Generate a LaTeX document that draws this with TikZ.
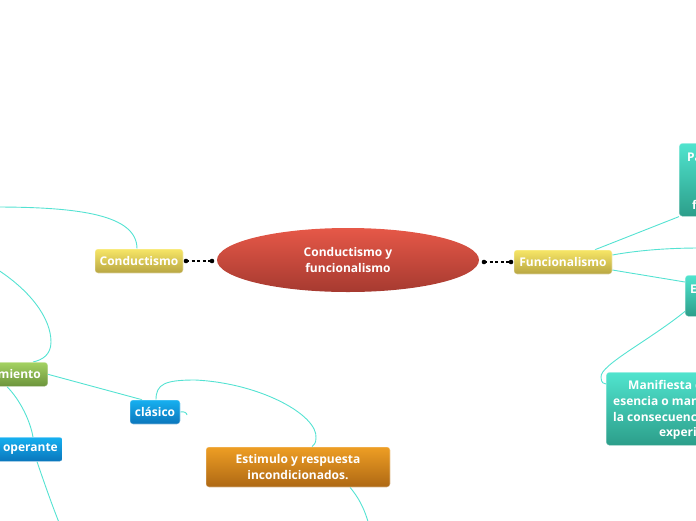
\documentclass[tikz,border=0pt]{standalone}
\usepackage{fontspec}
\setmainfont{Open Sans}
\usetikzlibrary{shapes.geometric}
\definecolor{connc}{RGB}{84,226,210}
\definecolor{redT}{RGB}{230,88,72}
\definecolor{redB}{RGB}{166,58,48}
\definecolor{yelT}{RGB}{247,230,102}
\definecolor{yelB}{RGB}{184,166,66}
\definecolor{tealT}{RGB}{80,228,206}
\definecolor{tealB}{RGB}{44,158,138}
\definecolor{grnT}{RGB}{164,210,98}
\definecolor{grnB}{RGB}{108,148,60}
\definecolor{bluT}{RGB}{22,176,240}
\definecolor{bluB}{RGB}{10,118,188}
\definecolor{orgT}{RGB}{238,158,36}
\definecolor{orgB}{RGB}{174,104,20}
\begin{document}
\begin{tikzpicture}[x=1pt,y=-1pt,
  box/.style={rounded corners=3pt, inner sep=0pt, draw=white, draw opacity=0.45, line width=0.6pt},
  lbl/.style={text=white, font=\fontsize{12}{16}\selectfont\bfseries, inner sep=0pt, align=center},
  yel/.style={box, top color=yelT, bottom color=yelB},
  teal/.style={box, top color=tealT, bottom color=tealB},
  grn/.style={box, top color=grnT, bottom color=grnB},
  blu/.style={box, top color=bluT, bottom color=bluB},
  org/.style={box, top color=orgT, bottom color=orgB},
  conn/.style={draw=connc, line width=0.9pt},
  dots/.style={dash pattern=on 3pt off 2.6pt, line width=1.3pt, black},
  dotend/.style={circle, fill=black, inner sep=0pt, minimum size=4.6pt}]
\useasboundingbox (0,0) rectangle (696,520);
\clip (0,0) rectangle (696,520);

% free ends of connectors
\coordinate (offA) at (-5,207);
\coordinate (offB) at (-5,268);
\coordinate (offC) at (60,525);
\coordinate (offD) at (369,525);
\coordinate (offE) at (700,248);
\coordinate (hookC) at (187,415);

% central node
\node[ellipse, minimum width=262pt, minimum height=64pt, inner sep=0pt,
      top color=redT, bottom color=redB, lbl] (center) at (348,260)
      {Conductismo y\\funcionalismo};

% node placement (named)
\node[yel, minimum width=88pt, minimum height=24pt, lbl] (cond) at (139,261) {Conductismo};
\node[yel, minimum width=98pt, minimum height=24pt, lbl] (func) at (563,262) {Funcionalismo};
\node[teal, anchor=north west, minimum width=90pt, minimum height=73pt] (pa) at (679,143) {};
\node[teal, anchor=north west, minimum width=60pt, minimum height=41pt] (ebox) at (685,275) {};
\node[teal, anchor=north west, minimum width=140pt, minimum height=73pt] (mani) at (606,372) {};
\node[grn, anchor=north east, minimum width=70pt, minimum height=24pt] (mbox) at (48,362) {};
\node[blu, anchor=north east, minimum width=80pt, minimum height=24pt] (obox) at (63,437) {};
\node[blu, minimum width=50pt, minimum height=24pt, lbl] (clas) at (155,412) {clásico};
\node[org, minimum width=184pt, minimum height=40pt, lbl] (est) at (298,467) {Estimulo y respuesta\\incondicionados.};

% connectors
\draw[conn] ([xshift=-2pt]cond.north) .. controls (137,215) and (80,207) .. (offA);
\draw[conn] (offB) .. controls (30,290) and (51,318) .. (51,342)
            .. controls (51,355) and (42,360) .. ([xshift=-15pt]mbox.north east);
\draw[conn] (mbox.east) -- ([xshift=-13pt]clas.north);
\draw[conn] ([xshift=-41pt]mbox.south east) .. controls (20,400) and (30,420) .. ([xshift=-30pt]obox.north east);
\draw[conn] ([xshift=-26pt]obox.south east) .. controls (45,485) and (52,505) .. (offC);
\draw[conn] (clas.east) .. controls (184,411) and (187,413) .. (hookC);
\draw[conn] ([xshift=1pt]clas.north) .. controls (156,384) and (165,380) .. (195,380)
            .. controls (260,383) and (318,415) .. (316,438)
            .. controls (316,443) and (314,445) .. ([xshift=14pt]est.north);
\draw[conn] ([xshift=52pt]est.south) .. controls (358,497) and (364,507) .. (offD);
\draw[conn] ([xshift=32pt]func.north) -- (pa.south west);
\draw[conn] ([yshift=7pt]func.east) .. controls (640,250) and (670,248) .. (offE);
\draw[conn] ([yshift=-8pt]func.east) -- ([yshift=-7pt]ebox.north west);
\draw[conn] ([yshift=6pt,xshift=1pt]ebox.south west) .. controls (650,340) and (600,365) .. (601,377)
            .. controls (601,383) and (604,384) .. ([yshift=-12pt]mani.north west);

% boxes redrawn above connectors, with texts
\node[yel, minimum width=88pt, minimum height=24pt, lbl] at (cond) {Conductismo};
\node[yel, minimum width=98pt, minimum height=24pt, lbl] at (func) {Funcionalismo};
\node[teal, anchor=north west, minimum width=90pt, minimum height=73pt] at (pa.north west) {};
\node[lbl, anchor=west] (patxt1) at (687,157) {Pa};
\node[lbl, anchor=west] (patxt2) at (692,205) {f};
\node[teal, anchor=north west, minimum width=60pt, minimum height=41pt] at (ebox.north west) {};
\node[lbl, anchor=west] (etxt) at (690,289) {E};
\node[teal, anchor=north west, minimum width=140pt, minimum height=73pt] at (mani.north west) {};
\node[lbl, anchor=west] (m1) at (628,385) {Manifiesta c};
\node[lbl, anchor=west] (m2) at (613,401) {esencia o man};
\node[lbl, anchor=west] (m3) at (613,417) {la consecuenc};
\node[lbl, anchor=west] (m4) at (659,433) {experi};
\node[grn, anchor=north east, minimum width=70pt, minimum height=24pt] at (mbox.north east) {};
\node[lbl, anchor=east] (mtxt) at (41,374) {miento};
\node[blu, anchor=north east, minimum width=80pt, minimum height=24pt] at (obox.north east) {};
\node[lbl, anchor=east] (otxt) at (58,449) {operante};
\node[blu, minimum width=50pt, minimum height=24pt, lbl] at (clas) {clásico};
\node[org, minimum width=184pt, minimum height=40pt, lbl] at (est) {Estimulo y respuesta\\incondicionados.};

% dotted main links
\coordinate (cl1) at (186,261);
\coordinate (cl2) at (212,261);
\coordinate (cr1) at (484,262);
\coordinate (cr2) at (511,262);
\draw[dots] (cl1) -- (cl2);
\draw[dots] (cr1) -- (cr2);
\node[dotend] (d1) at (cl1) {};
\node[dotend] (d2) at (cl2) {};
\node[dotend] (d3) at (cr1) {};
\node[dotend] (d4) at (cr2) {};
\end{tikzpicture}
\end{document}
